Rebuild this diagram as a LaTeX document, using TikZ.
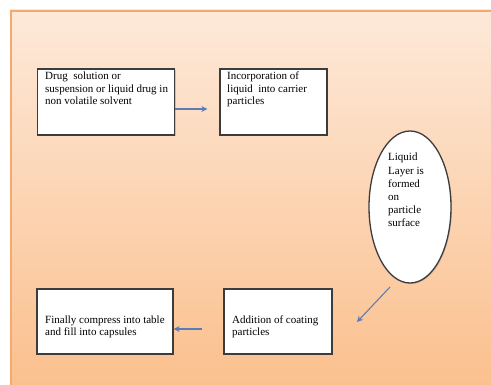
\documentclass[tikz,border=0pt]{standalone}
\usepackage{fontspec}
\setmainfont{Liberation Serif}
\usetikzlibrary{shapes.geometric,shadows,arrows.meta}
\definecolor{peachtop}{RGB}{253,233,217}
\definecolor{peachbot}{RGB}{251,192,142}
\definecolor{paneledge}{RGB}{244,170,110}
\definecolor{arrowblue}{RGB}{92,125,180}
\definecolor{boxedge}{RGB}{60,60,60}
\tikzset{
  stepbox/.style={draw=boxedge, line width=1.3pt, fill=white, rectangle, inner sep=0pt,
    drop shadow={shadow xshift=1pt, shadow yshift=-1pt, opacity=0.35}},
  boxtext/.style={anchor=north west, align=left, inner sep=0pt, font=\fontsize{11}{12.5}\selectfont},
  flowarrow/.style={draw=arrowblue, line width=1.1pt, -{Stealth[length=6pt,width=6pt,inset=2pt]}}
}
\begin{document}
\begin{tikzpicture}[x=1pt,y=-1pt]
\useasboundingbox (0,0) rectangle (491,385);
\fill[white] (0,0) rectangle (491,385);
\shade[top color=peachtop, bottom color=peachbot] (10,10) rectangle (491,385);
\draw[paneledge, line width=2.5pt] (11.2,385) -- (11.2,11.2) -- (491,11.2);

\node[stepbox, minimum width=137pt, minimum height=66pt] (b1) at (106,102) {};
\node[stepbox, minimum width=107pt, minimum height=66pt] (b2) at (273.5,102) {};
\node[stepbox, minimum width=136pt, minimum height=65pt] (b3) at (105,321.5) {};
\node[stepbox, minimum width=108pt, minimum height=65pt] (b4) at (278,321.5) {};
\node[draw=boxedge, line width=1.3pt, fill=white, ellipse, minimum width=82pt, minimum height=152pt, inner sep=0pt,
  drop shadow={shadow xshift=1pt, shadow yshift=-1pt, opacity=0.35}] (e1) at (410,207) {};

\node[boxtext] (t1) at (45,72) {Drug\ \ solution or\\suspension or liquid drug in\\non volatile solvent};
\node[boxtext] (t2) at (227,72) {Incorporation of\\liquid\ \ into carrier\\particles};
\node[boxtext, font=\fontsize{11}{13.2}\selectfont] (t5) at (388,153) {Liquid\\Layer is\\formed\\on\\particle\\surface};
\node[boxtext, anchor=west, font=\fontsize{11}{12}\selectfont] (t3) at (45,327) {Finally compress into table\\and fill into capsules};
\node[boxtext, anchor=west, font=\fontsize{11}{12}\selectfont] (t4) at (232,327) {Addition of coating\\particles};

\coordinate (a3s) at (390,287);
\coordinate (a3e) at (357,322);
\draw[flowarrow] ([yshift=-7pt]b1.east) -- ([xshift=-12pt,yshift=-7pt]b2.west);
\draw[flowarrow] ([xshift=-21pt,yshift=-7.5pt]b4.west) -- ([yshift=-7.5pt]b3.east);
\draw[flowarrow] (a3s) -- (a3e);
\end{tikzpicture}
\end{document}
